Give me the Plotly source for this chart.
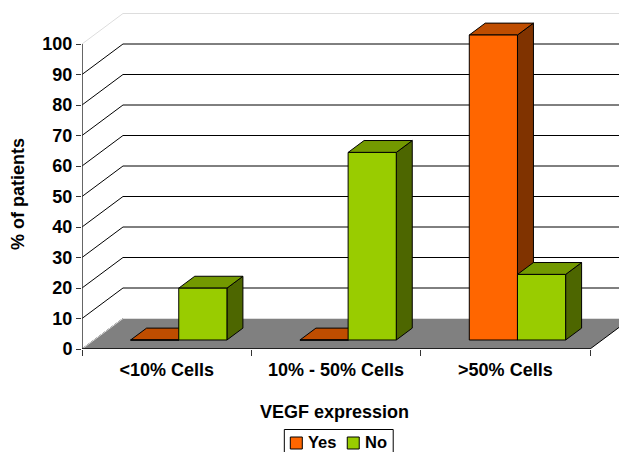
import plotly.graph_objects as go

categories = ["<10% Cells", "10% - 50% Cells", ">50% Cells"]
yes_values = [0, 0, 100]
no_values = [17, 61.5, 21.5]
y_ticks = list(range(0, 101, 10))

DX, DY = 0.242, 10.0      # one unit of chart depth, in axis units
BAR_W = 0.2844
BAR_FRONT = 0.295         # bar front plane, in depth units
BAR_DEPTH = 0.39

X_LEFT, X_RIGHT = 81.5, 635.0   # page pixels of the plot area
Y_BOTTOM, Y_TOP = 349.0, 8.0
PAGE_OFFSET = 8.0
CAT_PX, VAL_PX = 169.5, 3.05


def px(x):
    return (x - X_LEFT) / (X_RIGHT - X_LEFT)


def py(y):
    return (Y_BOTTOM - y) / (Y_BOTTOM - Y_TOP)


fig = go.Figure()


def poly(xs, ys, fill, line="black", z=0, width=1):
    fig.add_trace(go.Scatter(
        x=xs + xs[:1], y=ys + ys[:1], mode="lines", fill="toself", fillcolor=fill,
        line=dict(color=line, width=width), showlegend=False, hoverinfo="skip", zorder=z))


def seg(xs, ys, color, z=0, width=1):
    fig.add_trace(go.Scatter(
        x=xs, y=ys, mode="lines", line=dict(color=color, width=width),
        showlegend=False, hoverinfo="skip", zorder=z))


for v in y_ticks:
    c = "#dddddd" if v == y_ticks[-1] else "black"
    seg([0, DX], [v, v + DY], c)
    seg([DX, 3 + DX], [v + DY, v + DY], c)

poly([0, 3, 3 + DX, DX], [0, 0, DY, DY], "#808080", line="rgba(0,0,0,0)")
seg([DX, 3 + DX], [DY, DY], "#dddddd")
seg([0, DX], [0, DY], "#dddddd")
seg([3, 3 + DX], [0, DY], "black")

series = [
    ("Yes", yes_values, "#FF6600", "#BF4D00", "#803300", 0),
    ("No", no_values, "#99CC00", "#739900", "#4D6600", 1),
]
x0 = BAR_FRONT * DX
y0 = BAR_FRONT * DY
ddx, ddy = BAR_DEPTH * DX, BAR_DEPTH * DY
centers = [i + 0.5 + x0 for i in range(3)]

for s, (name, vals, front, top, side, k) in enumerate(series):
    z = 2 * s + 1
    for c, v in zip(centers, vals):
        l = c - BAR_W + k * BAR_W
        r = l + BAR_W
        t = y0 + v
        poly([r, r + ddx, r + ddx, r], [y0, y0 + ddy, t + ddy, t], side, z=z)
        poly([l, l + ddx, r + ddx, r], [t, t + ddy, t + ddy, t], top, z=z)
    fig.add_trace(go.Bar(
        x=[c - BAR_W / 2 + k * BAR_W for c in centers], y=vals, base=y0, width=BAR_W,
        name=name, marker=dict(color=front, line=dict(color="black", width=1)),
        showlegend=False, zorder=z + 1))

# axis lines (the plot area runs past them to hold the depth of the floor and walls)
seg([0, 0], [0, y_ticks[-1]], "#333333", z=9, width=1.5)
seg([0, 3], [0, 0], "black", z=9, width=1.5)

font = dict(family="Liberation Sans, Arial, sans-serif", size=18, color="black", weight="bold")
legend_font = dict(font, size=16.5)

shapes = [
    dict(type="rect", xref="paper", yref="paper", x0=px(284), x1=px(393), y0=py(460), y1=py(429.5),
         line=dict(color="black", width=1), fillcolor="white"),
    dict(type="rect", xref="paper", yref="paper", x0=px(290), x1=px(302), y0=py(449), y1=py(437),
         line=dict(color="black", width=1), fillcolor="#FF6600"),
    dict(type="rect", xref="paper", yref="paper", x0=px(347), x1=px(359), y0=py(449), y1=py(437),
         line=dict(color="black", width=1), fillcolor="#99CC00"),
]
annotations = [
    dict(text="VEGF expression", xref="paper", yref="paper", x=px(334), y=py(412), showarrow=False, font=font,
         xanchor="center", yanchor="middle"),
    dict(text="% of patients", xref="paper", yref="paper", x=px(17), y=py(194.5), showarrow=False, font=font,
         textangle=-90, xanchor="center", yanchor="middle"),
    dict(text="Yes", xref="paper", yref="paper", x=px(306), y=py(441.5), showarrow=False, font=legend_font,
         xanchor="left", yanchor="middle"),
    dict(text="No", xref="paper", yref="paper", x=px(363), y=py(441.5), showarrow=False, font=legend_font,
         xanchor="left", yanchor="middle"),
]

fig.update_layout(
    width=627, height=452, paper_bgcolor="white", plot_bgcolor="white",
    margin=dict(l=X_LEFT - PAGE_OFFSET, r=0, t=0, b=452 - (Y_BOTTOM - PAGE_OFFSET)),
    barmode="overlay", font=font, showlegend=False, shapes=shapes, annotations=annotations,
    xaxis=dict(range=[0, (X_RIGHT - X_LEFT) / CAT_PX], tickvals=[0.5, 1.5, 2.5], ticktext=categories,
               ticks="outside", ticklen=4, tickcolor="rgba(0,0,0,0)",
               showgrid=False, zeroline=False, showline=False, tickfont=font,
               minor=dict(tickvals=[0, 1, 2, 3], ticks="outside", ticklen=6, tickcolor="#333333", tickwidth=1, showgrid=False)),
    yaxis=dict(range=[0, (Y_BOTTOM - Y_TOP) / VAL_PX], tickvals=y_ticks, ticks="outside", ticklen=5, tickcolor="#333333",
               showgrid=False, zeroline=False, showline=False, tickfont=font),
)

fig.write_html("out.html")
